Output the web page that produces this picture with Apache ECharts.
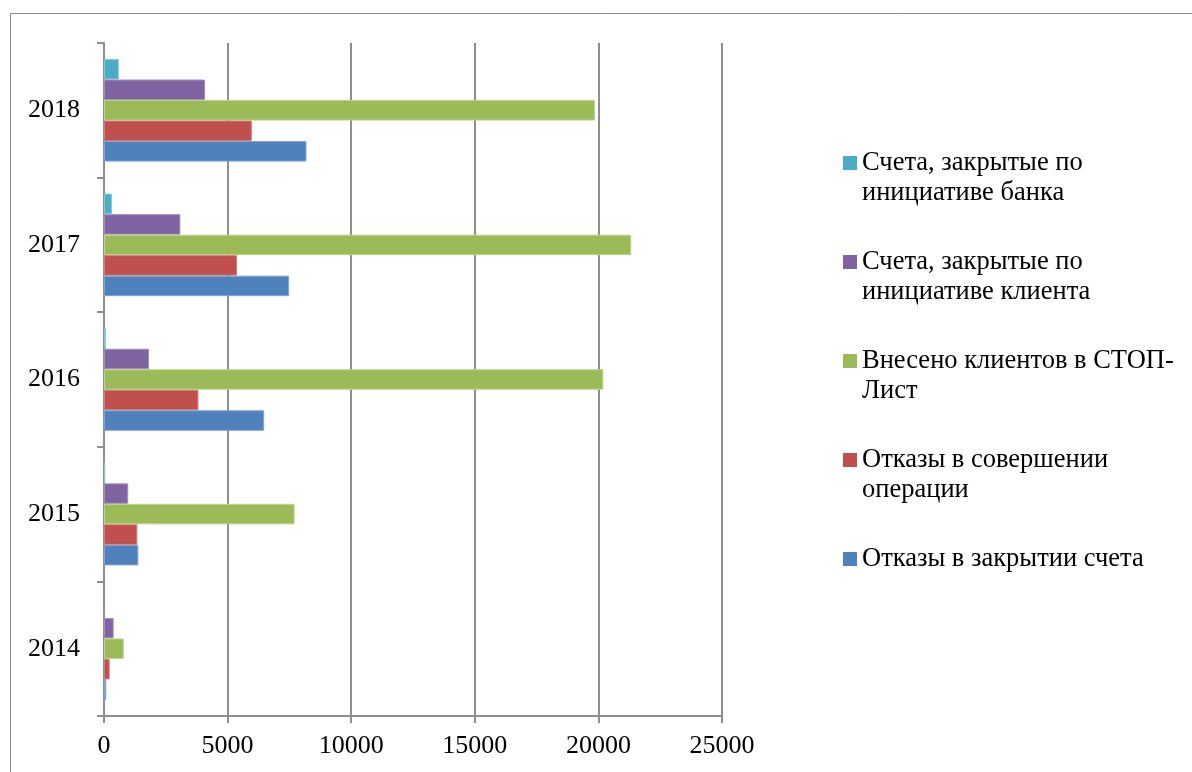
<!DOCTYPE html>
<html>
<head>
<meta charset="utf-8">
<script src="https://cdn.jsdelivr.net/npm/echarts@6/dist/echarts.min.js"></script>
<style>
  html, body { margin: 0; padding: 0; background: #fff; }
  #chart { width: 1192px; height: 772px; }
</style>
</head>
<body>
<div id="chart"></div>
<script>
// Years on the category axis (bottom to top)
const years = ['2014', '2015', '2016', '2017', '2018'];

// Series values per year
const refusalsClose   = [90, 1390, 6480, 7490, 8190];     // Отказы в закрытии счета
const refusalsOps     = [230, 1350, 3820, 5380, 5980];    // Отказы в совершении операции
const stopList        = [800, 7710, 20200, 21330, 19860]; // Внесено клиентов в СТОП-Лист
const closedByClient  = [390, 980, 1820, 3090, 4090];     // Счета, закрытые по инициативе клиента
const closedByBank    = [0, 50, 80, 320, 600];            // Счета, закрытые по инициативе банка

// Value axis ticks
const xTicks = [0, 5000, 10000, 15000, 20000, 25000];

const names = {
  close: 'Отказы в закрытии счета',
  ops: 'Отказы в совершении операции',
  stop: 'Внесено клиентов в СТОП-Лист',
  client: 'Счета, закрытые по инициативе клиента',
  bank: 'Счета, закрытые по инициативе банка'
};

// Legend captions, wrapped the way they are printed
const legendText = {};
legendText[names.bank]   = '\nСчета, закрытые по\nинициативе банка';
legendText[names.client] = '\nСчета, закрытые по\nинициативе клиента';
legendText[names.stop]   = '\nВнесено клиентов в СТОП-\nЛист';
legendText[names.ops]    = '\nОтказы в совершении\nоперации';
legendText[names.close]  = '\nОтказы в закрытии счета\n';

const FONT = "'Liberation Serif', 'Times New Roman', serif";
const axisGray = '#8e8e8e';

function bar(name, data, color, edge) {
  return {
    name: name,
    type: 'bar',
    // zero values get no outline so nothing shows at the axis
    data: data.map(function (v) {
      return v === 0 ? { value: v, itemStyle: { borderWidth: 0 } } : v;
    }),
    barGap: '0%',
    barCategoryGap: '23.8%',
    itemStyle: { color: color, borderColor: edge, borderWidth: 1 },
    emphasis: { disabled: true },
    animation: false
  };
}

const chart = echarts.init(document.getElementById('chart'), null, { renderer: 'canvas' });
chart.setOption({
  backgroundColor: '#ffffff',
  animation: false,
  graphic: [{
    type: 'rect',
    shape: { x: 10.5, y: 13.5, width: 1400, height: 900 },
    style: { fill: 'none', stroke: '#8a8a8a', lineWidth: 1 },
    silent: true,
    z: -1
  }],
  grid: { left: 104, top: 43, right: 470, bottom: 56, containLabel: false },
  legend: {
    orient: 'vertical',
    left: 843,
    top: 118,
    padding: 0,
    itemGap: 9,
    itemWidth: 14,
    itemHeight: 14,
    icon: 'rect',
    selectedMode: false,
    data: [names.bank, names.client, names.stop, names.ops, names.close],
    formatter: function (n) { return legendText[n]; },
    itemStyle: { borderWidth: 0 },
    textStyle: { fontFamily: FONT, fontSize: 26.5, color: '#000', lineHeight: 30 }
  },
  xAxis: {
    type: 'value',
    min: xTicks[0],
    max: xTicks[xTicks.length - 1],
    interval: xTicks[1] - xTicks[0],
    axisLine: { show: true, lineStyle: { color: axisGray, width: 2 } },
    axisTick: { show: true, length: 7, lineStyle: { color: axisGray, width: 2 } },
    splitLine: { show: true, lineStyle: { color: axisGray, width: 2 } },
    axisLabel: {
      fontFamily: FONT, fontSize: 26, color: '#000', margin: 17,
      formatter: function (v) { return String(v); }
    }
  },
  yAxis: {
    type: 'category',
    data: years,
    axisLine: { show: true, lineStyle: { color: axisGray, width: 2 } },
    axisTick: { show: true, length: 7, lineStyle: { color: axisGray, width: 2 } },
    splitLine: { show: false },
    axisLabel: { fontFamily: FONT, fontSize: 26, color: '#000', margin: 24 }
  },
  // Within each year the bank-closed bar sits on top, refusals to close at the bottom
  series: [
    bar(names.bank, closedByBank, '#4BACC6', '#7dc8dc'),
    bar(names.client, closedByClient, '#8064A2', '#a48cc2'),
    bar(names.stop, stopList, '#9BBB59', '#bcd58c'),
    bar(names.ops, refusalsOps, '#C0504D', '#d47b78'),
    bar(names.close, refusalsClose, '#4F81BD', '#7ea3d3')
  ]
});
</script>
</body>
</html>
